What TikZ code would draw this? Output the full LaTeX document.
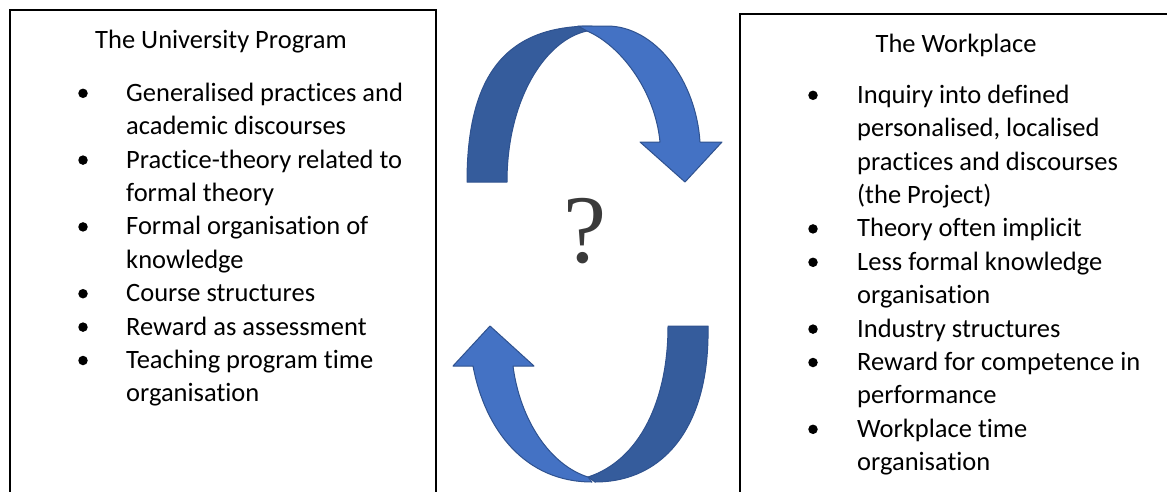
\documentclass[tikz,border=0pt]{standalone}
\usepackage{fontspec}
\setmainfont{Carlito}[Ligatures=NoCommon]
\newfontfamily\qfont{Liberation Serif}
\newcommand\mybody{\fontsize{26.5}{33.4}\selectfont}
\definecolor{arrlight}{HTML}{4472C4}
\definecolor{arrdark}{HTML}{355C9C}
\definecolor{arredge}{HTML}{2F528F}
\definecolor{qgray}{HTML}{3A3A3A}
\tikzset{
  txt/.style={anchor=base west, inner sep=0pt, font=\mybody},
  ttl/.style={anchor=base, inner sep=0pt, font=\mybody},
  bul/.style={circle, fill=black, inner sep=0pt, minimum size=9.5pt},
  boxline/.style={draw=black, line width=1.4pt},
  lightpart/.style={fill=arrlight, draw=arredge, line width=1pt, line join=round},
  darkpart/.style={fill=arrdark, draw=arredge, line width=1pt, line join=round},
}
\begin{document}
\begin{tikzpicture}[x=1pt,y=-1pt]
\useasboundingbox (0,0) rectangle (1167,491);
% boxes
\draw[boxline] (10,493) -- (10,10) -- (436,10) -- (436,493);
\draw[boxline] (740,493) -- (740,14) -- (1169,14);
% titles
\node[ttl] (ltitle) at (221,48) {The University Program};
\node[ttl] (rtitle) at (956,52) {The Workplace};
% left list
\node[bul] (lb1) at (83,93.3) {};
\node[txt] (l1) at (126,101.3) {Generalised practices and};
\node[txt] (l2) at (126,134.7) {academic discourses};
\node[bul] (lb2) at (83,160.1) {};
\node[txt] (l3) at (126,168.1) {Practice-theory related to};
\node[txt] (l4) at (126,201.5) {formal theory};
\node[bul] (lb3) at (83,226.9) {};
\node[txt] (l5) at (126,234.9) {Formal organisation of};
\node[txt] (l6) at (126,268.3) {knowledge};
\node[bul] (lb4) at (83,293.7) {};
\node[txt] (l7) at (126,301.7) {Course structures};
\node[bul] (lb5) at (83,327.1) {};
\node[txt] (l8) at (126,335.1) {Reward as assessment};
\node[bul] (lb6) at (83,360.5) {};
\node[txt] (l9) at (126,368.5) {Teaching program time};
\node[txt] (l10) at (126,401.9) {organisation};
% right list
\node[bul] (rb1) at (813,95.3) {};
\node[txt] (r1) at (857,103.3) {Inquiry into defined};
\node[txt] (r2) at (857,136.7) {personalised, localised};
\node[txt] (r3) at (857,170.1) {practices and discourses};
\node[txt] (r4) at (857,203.5) {(the Project)};
\node[bul] (rb2) at (813,228.9) {};
\node[txt] (r5) at (857,236.9) {Theory often implicit};
\node[bul] (rb3) at (813,262.3) {};
\node[txt] (r6) at (857,270.3) {Less formal knowledge};
\node[txt] (r7) at (857,303.7) {organisation};
\node[bul] (rb4) at (813,329.1) {};
\node[txt] (r8) at (857,337.1) {Industry structures};
\node[bul] (rb5) at (813,362.5) {};
\node[txt] (r9) at (857,370.5) {Reward for competence in};
\node[txt] (r10) at (857,403.9) {performance};
\node[bul] (rb6) at (813,429.3) {};
\node[txt] (r11) at (857,437.3) {Workplace time};
\node[txt] (r12) at (857,470.7) {organisation};
% question mark
\node[anchor=base, inner sep=0pt, text=qgray, font=\qfont\fontsize{97}{97}\selectfont] (q) at (585,262) {?};
% top arrow
\draw[darkpart] (467,182) .. controls (467,70) and (510,26) .. (592,26)
  -- (587,31) .. controls (545,40) and (507,100) .. (507,182) -- cycle;
\draw[lightpart] (578,26) -- (607,26) .. controls (655,26) and (696,80) .. (700,142)
  -- (722,142) -- (685,182) -- (640,142) -- (660,142)
  .. controls (655,90) and (620,45) .. (587,31) -- cycle;
% bottom arrow
\draw[darkpart] (668,326) -- (708,326) .. controls (710,425) and (665,482) .. (595,482)
  -- (588,477) .. controls (640,460) and (668,400) .. (668,326) -- cycle;
\draw[lightpart] (473,366) .. controls (485,430) and (525,482) .. (592,482)
  -- (588,477) .. controls (550,465) and (520,420) .. (513,366)
  -- (534,366) -- (490,326) -- (453,366) -- cycle;
\end{tikzpicture}
\end{document}
